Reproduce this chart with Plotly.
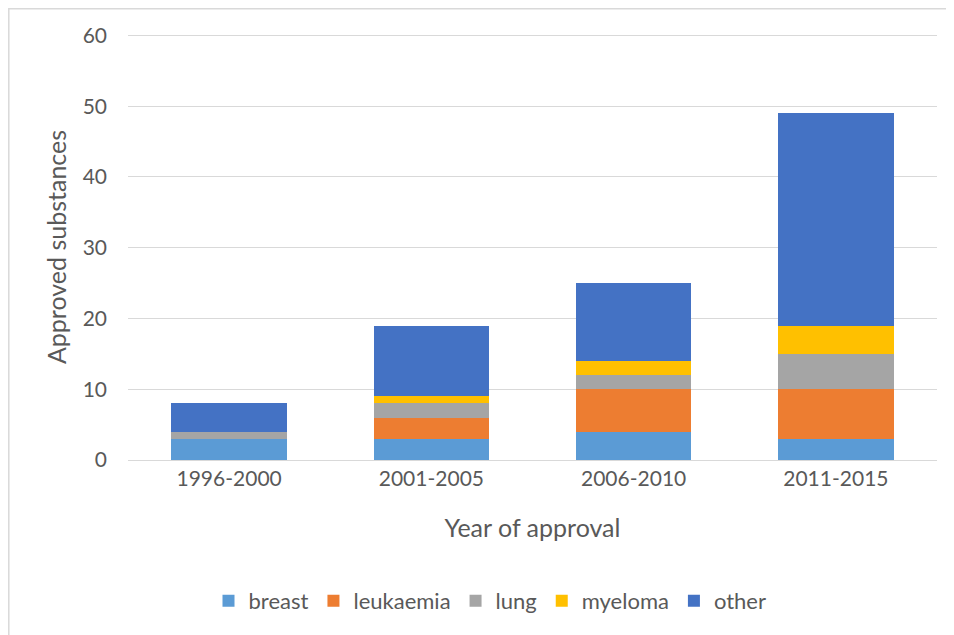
import plotly.graph_objects as go

categories = ["1996-2000", "2001-2005", "2006-2010", "2011-2015"]
breast = [3, 3, 4, 3]
leukaemia = [0, 3, 6, 7]
lung = [1, 2, 2, 5]
myeloma = [0, 1, 2, 4]
other = [4, 10, 11, 30]

series = [
    ("breast", breast, "#5B9BD5"),
    ("leukaemia", leukaemia, "#ED7D31"),
    ("lung", lung, "#A5A5A5"),
    ("myeloma", myeloma, "#FFC000"),
    ("other", other, "#4472C4"),
]

fig = go.Figure()
for name, vals, col in series:
    fig.add_trace(go.Bar(x=categories, y=vals, name=name, marker=dict(color=col, line=dict(width=0))))

OFF = 8  # page body margin
W, H = 954, 635
# target screen positions of plot area
SL, SR, ST, SB = 128, 937, 34, 460
L, T = SL - OFF, ST - OFF
R = W - (SR - OFF)
B = H - (SB - OFF)
pw, ph = W - L - R, H - T - B

def px_x(p):  # screen px -> paper
    return (p - SL) / pw

def px_y(p):
    return (SB - p) / ph

font = "Lato, 'Open Sans', sans-serif"
fig.update_layout(
    width=W, height=H,
    margin=dict(l=L, r=R, t=T, b=B),
    barmode="stack",
    bargap=0.43,
    plot_bgcolor="white",
    paper_bgcolor="white",
    font=dict(family=font, color="#595959", size=21),
    xaxis=dict(
        showgrid=False, showline=True, linecolor="#D9D9D9", linewidth=1,
        ticks="", tickfont=dict(size=21, color="#595959"),
        title=dict(text="Year of approval", font=dict(size=25, color="#595959"), standoff=30),
    ),
    yaxis=dict(
        range=[0, 60.2], tickvals=[0, 10, 20, 30, 40, 50, 60], showgrid=True,
        gridcolor="#D9D9D9", gridwidth=1,
        zeroline=False, showline=False, ticks="", ticklabelstandoff=20,
        tickfont=dict(size=21, color="#595959"),
        title=dict(text="Approved substances", font=dict(size=25, color="#595959"), standoff=8),
    ),
    legend=dict(
        orientation="h", x=px_x(490), y=px_y(601), xanchor="center", yanchor="middle",
        font=dict(size=22, color="#595959"), traceorder="normal", itemwidth=30,
    ),
    shapes=[dict(type="rect", xref="paper", yref="paper",
                 x0=px_x(8.8), x1=px_x(980), y0=px_y(660), y1=px_y(8.8),
                 line=dict(color="#D9D9D9", width=1.5), layer="below")],
)

fig.write_html("out.html")
